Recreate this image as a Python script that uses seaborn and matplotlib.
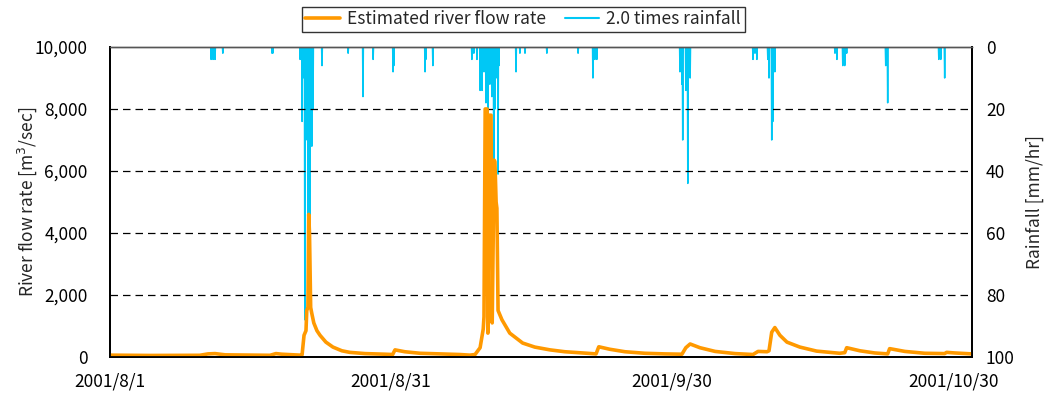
import numpy as np
import pandas as pd
import matplotlib
matplotlib.use("Agg")
import matplotlib.pyplot as plt
from matplotlib.lines import Line2D
import seaborn as sns

# Hourly record starting 2001-08-01 00:00, 92 days long
start = pd.Timestamp("2001-08-01 00:00")
n_hours = 92 * 24

# Estimated river flow rate [m3/sec] at key hours (hours since start)
flow_hours = [0, 102, 230, 251, 269, 295, 410, 425, 440, 487, 492, 497, 502, 504,
              507, 509, 511, 514, 517, 522, 530, 538, 553, 571, 594, 614, 653, 704,
              724, 730, 755, 794, 845, 896, 922, 935, 948, 956, 958, 961, 966, 968,
              971, 976, 979, 984, 986, 989, 991, 994, 1004, 1024, 1057, 1088, 1127,
              1165, 1211, 1245, 1252, 1280, 1319, 1370, 1421, 1465, 1475, 1486, 1511,
              1550, 1601, 1647, 1660, 1683, 1688, 1695, 1703, 1716, 1734, 1767, 1810,
              1869, 1882, 1887, 1921, 1959, 1992, 1997, 2036, 2087, 2138, 2143, 2164,
              2208]
flow_values = [60, 50, 55, 100, 110, 70, 55, 110, 90, 60, 70, 700, 850, 1500,
               1600, 4600, 4000, 1600, 1400, 1100, 850, 700, 480, 320, 200, 150, 110, 90,
               80, 230, 170, 120, 100, 80, 60, 80, 300, 900, 1300, 8000, 8000, 770,
               7800, 7800, 1100, 6350, 6300, 5000, 4800, 1500, 1200, 770, 450, 320, 230,
               170, 130, 100, 330, 250, 170, 120, 100, 90, 300, 420, 300,
               180, 110, 80, 180, 170, 200, 800, 950, 700, 480, 320, 190,
               120, 140, 300, 200, 130, 100, 270, 180, 120, 110, 150, 130,
               100]

# Rainfall (plotted as 2.0 times) [mm/hr], hours with rain and their values
rain_hours = [259, 264, 269, 289, 415, 417,
              487, 492, 494, 497, 499, 502, 504, 507, 510, 512, 515, 517, 520, 543,
              610, 648, 674, 725, 727, 807, 809, 827,
              927, 932, 940, 948, 953, 958, 963, 966, 968, 973, 978, 983, 986, 989,
              994, 996, 1040, 1050, 1063, 1119, 1199, 1237, 1242, 1247,
              1460, 1465, 1467, 1475, 1480, 1486,
              1647, 1652, 1657, 1685, 1688, 1695, 1698, 1703,
              1857, 1862, 1877, 1882, 1887, 1987, 1992, 2123, 2128, 2138]
rain_values = [4, 4, 4, 2, 2, 2,
               4, 24, 8, 10, 88, 30, 7, 55, 40, 55, 4, 32, 20, 6,
               2, 16, 4, 8, 6, 8, 4, 6,
               4, 2, 4, 14, 14, 8, 18, 10, 24, 12, 16, 50, 20, 10,
               41, 6, 8, 2, 2, 2, 2, 10, 4, 4,
               8, 12, 30, 14, 44, 10,
               4, 2, 4, 4, 10, 30, 24, 8,
               2, 4, 6, 6, 2, 6, 18, 4, 4, 10]

tick_dates = ["2001-08-01", "2001-08-31", "2001-09-30", "2001-10-30"]
tick_labels = ["2001/8/1", "2001/8/31", "2001/9/30", "2001/10/30"]

flow_df = pd.DataFrame({
    "time": start + pd.to_timedelta(flow_hours, unit="h"),
    "flow": flow_values,
})
rain_series = np.zeros(n_hours + 1)
rain_series[rain_hours] = rain_values
rain_df = pd.DataFrame({
    "time": start + pd.to_timedelta(np.arange(n_hours + 1), unit="h"),
    "rain": rain_series,
})

sns.set_theme(style="white")
plt.rcParams["font.family"] = ["Noto Sans CJK JP", "DejaVu Sans"]
plt.rcParams["mathtext.fontset"] = "dejavusans"

orange = "#ff9900"
cyan = "#00c8f5"
fs = 12.5

fig = plt.figure(figsize=(10.46, 3.96), dpi=100)
ax = fig.add_axes([110 / 1046, 39 / 396, 862 / 1046, 310 / 396])
ax2 = ax.twinx()

sns.lineplot(data=rain_df, x="time", y="rain", ax=ax2, color=cyan, linewidth=1.1)
sns.lineplot(data=flow_df, x="time", y="flow", ax=ax, color=orange, linewidth=2.6)

# flow drawn above the rainfall curve
ax.set_zorder(ax2.get_zorder() + 1)
ax.patch.set_visible(False)
ax2.patch.set_facecolor("white")

ax.set_xlim(start, start + pd.Timedelta(hours=n_hours))
ax.set_ylim(0, 10000)
ax2.set_ylim(100, 0)

ax.set_yticks(np.arange(0, 10001, 2000))
ax.set_yticklabels([f"{v:,}" for v in range(0, 10001, 2000)])
ax2.set_yticks(np.arange(0, 101, 20))
ax.set_xticks(pd.to_datetime(tick_dates))
ax.set_xticklabels(tick_labels)

for y in range(2000, 10000, 2000):
    ax.axhline(y, color="black", linestyle=(0, (6, 4)), linewidth=0.9, zorder=0)

ax.set_xlabel("")
ax.set_ylabel("River flow rate [m$^3$/sec]", fontsize=fs, labelpad=-3)
ax2.set_ylabel("Rainfall [mm/hr]", fontsize=fs, labelpad=8)

ax.tick_params(axis="x", direction="in", length=4, width=1, color="black",
               labelsize=fs, pad=11, labelcolor="black")
ax.tick_params(axis="y", direction="in", length=0, labelsize=fs, pad=16, labelcolor="black")
ax2.tick_params(axis="y", direction="in", length=0, labelsize=fs, pad=10, labelcolor="black")

for a in (ax, ax2):
    for side in ("left", "right", "bottom"):
        a.spines[side].set_color("black")
        a.spines[side].set_linewidth(1.3)
    a.spines["top"].set_color("#555555")
    a.spines["top"].set_linewidth(1.0)

handles = [Line2D([], [], color=orange, linewidth=2.6),
           Line2D([], [], color=cyan, linewidth=1.5)]
leg = fig.legend(handles, ["Estimated river flow rate", "2.0 times rainfall"],
                 loc="upper center", bbox_to_anchor=(523 / 1046, 1 - 7 / 396),
                 ncol=2, frameon=True, fancybox=False, fontsize=12.5,
                 handlelength=2.0, handletextpad=0.4, columnspacing=1.1,
                 borderpad=0.2, borderaxespad=0)
leg.get_frame().set_edgecolor("black")
leg.get_frame().set_linewidth(1.0)

fig.savefig("out.png", dpi=100)
